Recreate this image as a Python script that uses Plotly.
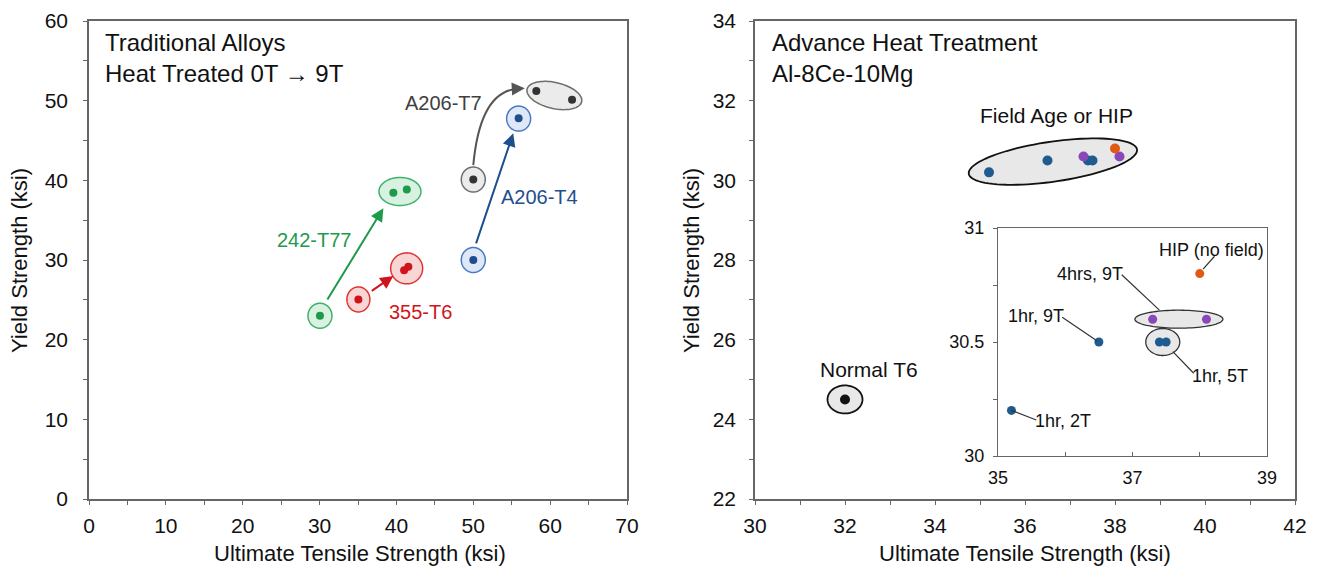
import numpy as np
import plotly.graph_objects as go

# ---------------- data : left panel (traditional alloys) ----------------
t77_uts = [30.05, 39.6, 41.35]
t77_ys = [23.0, 38.45, 38.85]
t6_355_uts = [35.05, 41.0, 41.55]
t6_355_ys = [25.05, 28.7, 29.15]
t4_uts = [50.0, 55.9]
t4_ys = [30.0, 47.8]
t7_uts = [50.0, 58.2, 62.85]
t7_ys = [40.1, 51.2, 50.1]

# ---------------- data : right panel (Al-8Ce-10Mg) ----------------
normal_uts = [32.0]
normal_ys = [24.5]
blue_uts = [35.2, 36.5, 37.4, 37.5]
blue_ys = [30.2, 30.5, 30.5, 30.5]
purple_uts = [37.3, 38.1]
purple_ys = [30.6, 30.6]
hip_uts = [38.0]
hip_ys = [30.8]

FONT = "Liberation Sans, Arial, sans-serif"
# the page body has an 8 px margin, so the figure is drawn 8 px in from the corner
OX, OY = 8, 8
W, H = 1318 - OX, 569 - OY

# pixel boxes (screen coordinates) of the three plot areas
L = (89, 627, 21, 499)
R = (755, 1295, 21, 499)
I = (998, 1267, 228, 456)
LR = ((0, 70), (0, 60))
RR = ((30, 42), (22, 34))
IR = ((35, 39), (30, 31))


def pxx(px):
    return (px - OX) / W


def pyy(py):
    return (H - (py - OY)) / H


def dom(box):
    x0, x1, yt, yb = box
    return [pxx(x0), pxx(x1)], [pyy(yb), pyy(yt)]


def ppu(box, rng):
    x0, x1, yt, yb = box
    return (x1 - x0) / (rng[0][1] - rng[0][0]), (yb - yt) / (rng[1][1] - rng[1][0])


def ellipse(cx, cy, rx, ry, ang, box, rng, n=90):
    px, py = ppu(box, rng)
    t = np.linspace(0, 2 * np.pi, n)
    a = np.radians(ang)
    dx = rx * np.cos(t) * np.cos(a) - ry * np.sin(t) * np.sin(a)
    dy = rx * np.cos(t) * np.sin(a) + ry * np.sin(t) * np.cos(a)
    xs = cx + dx / px
    ys = cy + dy / py
    return "M " + " L ".join(f"{x:.5f},{y:.5f}" for x, y in zip(xs, ys)) + " Z"


GREEN, GREEN_L, GREEN_F = "#1e9a4b", "#3db26b", "#d8f1e0"
RED, RED_L, RED_F = "#d0141c", "#e03434", "#f8d6d6"
BLUE, BLUE_L, BLUE_F = "#1f4e8f", "#4a78c8", "#dfe8f7"
GRAY, GRAY_L, GRAY_F = "#333333", "#6e6e6e", "#ebebeb"
DBLUE, PURPLE, ORANGE = "#1f5b8e", "#8a47b8", "#e05a14"

fig = go.Figure()


def pts(x, y, color, size, xa, ya):
    fig.add_trace(go.Scatter(x=x, y=y, mode="markers", xaxis=xa, yaxis=ya,
                             marker=dict(color=color, size=size), showlegend=False,
                             hoverinfo="x+y"))


pts(t77_uts, t77_ys, GREEN, 8, "x", "y")
pts(t6_355_uts, t6_355_ys, RED, 8, "x", "y")
pts(t4_uts, t4_ys, BLUE, 8, "x", "y")
pts(t7_uts, t7_ys, GRAY, 8, "x", "y")

pts(normal_uts, normal_ys, "#111111", 10, "x2", "y2")
pts(blue_uts, blue_ys, DBLUE, 10, "x2", "y2")
pts(purple_uts, purple_ys, PURPLE, 10, "x2", "y2")
pts(hip_uts, hip_ys, ORANGE, 10, "x2", "y2")

pts(blue_uts, blue_ys, DBLUE, 9, "x3", "y3")
pts(purple_uts, purple_ys, PURPLE, 9, "x3", "y3")
pts(hip_uts, hip_ys, ORANGE, 9, "x3", "y3")

shapes = []


def add_ell(cx, cy, rx, ry, ang, box, rng, xr, yr, line, fill, lw=1.5):
    shapes.append(dict(type="path", path=ellipse(cx, cy, rx, ry, ang, box, rng), xref=xr, yref=yr,
                       line=dict(color=line, width=lw), fillcolor=fill, layer="below"))


# left panel outlines
add_ell(t77_uts[0], t77_ys[0], 12, 12.5, 0, L, LR, "x", "y", GREEN_L, GREEN_F)
add_ell(40.46, 38.6, 21, 14, 0, L, LR, "x", "y", GREEN_L, GREEN_F)
add_ell(t6_355_uts[0], t6_355_ys[0], 11.5, 12.5, 0, L, LR, "x", "y", RED_L, RED_F)
add_ell(41.33, 28.95, 16, 15.5, 0, L, LR, "x", "y", RED_L, RED_F)
add_ell(t4_uts[0], t4_ys[0], 12, 12.5, 0, L, LR, "x", "y", BLUE_L, BLUE_F)
add_ell(t4_uts[1], t4_ys[1] - 0.05, 12, 12.5, 0, L, LR, "x", "y", BLUE_L, BLUE_F)
add_ell(t7_uts[0], t7_ys[0], 12, 12.5, 0, L, LR, "x", "y", GRAY_L, GRAY_F)
add_ell(60.55, 50.65, 28, 13, -13, L, LR, "x", "y", GRAY_L, GRAY_F)

# right panel outlines
add_ell(32.0, 24.5, 17.5, 14, 0, R, RR, "x2", "y2", "#111111", "#e8e8e8", 1.8)
add_ell(36.62, 30.47, 85, 20, 8.2, R, RR, "x2", "y2", "#111111", "#e8e8e8", 1.8)

# inset outlines
add_ell(37.69, 30.6, 44, 9, 0, I, IR, "x3", "y3", "#333333", "#e8e8e8", 1.3)
add_ell(37.45, 30.5, 17, 13.5, 0, I, IR, "x3", "y3", "#333333", "#e8e8e8", 1.3)

# gray curved arrow body
shapes.append(dict(type="path", path="M 50.0,41.9 Q 50.9,51.4 56.0,51.5", xref="x", yref="y",
                   line=dict(color="#555555", width=2)))

# inset leader lines
for (xa, ya, xb, yb) in [(38.05, 30.82, 38.22, 30.876),
                         (36.84, 30.795, 37.40, 30.64),
                         (35.955, 30.609, 36.47, 30.505),
                         (37.60, 30.458, 37.91, 30.363),
                         (35.2, 30.2, 35.57, 30.158)]:
    shapes.append(dict(type="line", x0=xa, y0=ya, x1=xb, y1=yb, xref="x3", yref="y3",
                       line=dict(color="#333333", width=1.2)))

ann = []


def arrow(x, y, ax, ay, color):
    ann.append(dict(x=x, y=y, ax=ax, ay=ay, xref="x", yref="y", axref="x", ayref="y",
                    showarrow=True, arrowhead=2, arrowsize=1.3, arrowwidth=2, arrowcolor=color,
                    text="", standoff=0, startstandoff=0))


arrow(38.3, 36.5, 30.9, 24.85, GREEN)
arrow(39.6, 28.0, 36.6, 26.0, RED)
arrow(55.2, 45.9, 50.3, 31.9, BLUE)
arrow(56.7, 51.55, 55.4, 51.48, "#555555")


def txt(x, y, s, color, size, xr, yr, xanchor="center", yanchor="middle", align="center"):
    ann.append(dict(x=x, y=y, text=s, xref=xr, yref=yr, showarrow=False, xanchor=xanchor,
                    yanchor=yanchor, align=align, font=dict(family=FONT, size=size, color=color)))


txt(29.4, 32.5, "242-T77", GREEN, 20, "x", "y")
txt(43.07, 23.5, "355-T6", RED, 20, "x", "y")
txt(58.6, 37.87, "A206-T4", BLUE, 20, "x", "y")
txt(46.06, 49.67, "A206-T7", "#404040", 20, "x", "y")

txt(36.69, 31.64, "Field Age or HIP", "#111111", 21, "x2", "y2")
txt(32.53, 25.25, "Normal T6", "#111111", 21, "x2", "y2")

txt(38.17, 30.905, "HIP (no field)", "#111111", 18, "x3", "y3")
txt(36.37, 30.80, "4hrs, 9T", "#111111", 18, "x3", "y3")
txt(35.56, 30.612, "1hr, 9T", "#111111", 18, "x3", "y3")
txt(38.30, 30.349, "1hr, 5T", "#111111", 18, "x3", "y3")
txt(35.97, 30.155, "1hr, 2T", "#111111", 18, "x3", "y3")

# panel titles
txt(pxx(103), pyy(27), "Traditional Alloys<br>Heat Treated 0T → 9T", "#111111", 24,
    "paper", "paper", "left", "top", "left")
txt(pxx(770), pyy(27), "Advance Heat Treatment<br>Al-8Ce-10Mg", "#111111", 24,
    "paper", "paper", "left", "top", "left")

# axis titles
for cx in (360, 1025):
    txt(pxx(cx), pyy(553), "Ultimate Tensile Strength (ksi)", "#111111", 22, "paper", "paper")
for cx in (20, 692):
    ann.append(dict(x=pxx(cx), y=pyy(261), text="Yield Strength (ksi)", xref="paper", yref="paper",
                    showarrow=False, textangle=-90, xanchor="center", yanchor="middle",
                    font=dict(family=FONT, size=22, color="#111111")))

AX = dict(showline=True, mirror=True, linecolor="#666666", linewidth=1.5, showgrid=False,
          zeroline=False, ticks="outside", ticklen=4, tickcolor="#666666", tickwidth=1.3,
          automargin=False, tickfont=dict(family=FONT, size=21, color="#111111"))

ldx, ldy = dom(L)
rdx, rdy = dom(R)
idx, idy = dom(I)

fig.update_layout(
    template="none",
    width=W, height=H, autosize=False,
    margin=dict(l=0, r=0, t=0, b=0, pad=0),
    paper_bgcolor="white", plot_bgcolor="rgba(0,0,0,0)",
    showlegend=False,
    xaxis=dict(AX, domain=ldx, range=[0, 70], dtick=10, anchor="y", ticklabelstandoff=3,
               minor=dict(dtick=5, ticks="outside", ticklen=4, tickcolor="#666666")),
    yaxis=dict(AX, domain=ldy, range=[0, 60], dtick=10, anchor="x", ticklabelstandoff=11,
               minor=dict(dtick=5, ticks="outside", ticklen=4, tickcolor="#666666")),
    xaxis2=dict(AX, domain=rdx, range=[30, 42], dtick=2, anchor="y2", ticklabelstandoff=3,
                minor=dict(dtick=1, ticks="outside", ticklen=4, tickcolor="#666666")),
    yaxis2=dict(AX, domain=rdy, range=[22, 34], dtick=2, anchor="x2", ticklabelstandoff=9,
                minor=dict(dtick=1, ticks="outside", ticklen=4, tickcolor="#666666")),
    xaxis3=dict(AX, domain=idx, range=[35, 39], tickmode="array", tickvals=[35, 37, 39],
                anchor="y3", ticks="inside", linewidth=1.3, ticklabelstandoff=5,
                tickfont=dict(family=FONT, size=18, color="#111111"),
                minor=dict(dtick=1, ticks="inside", ticklen=4, tickcolor="#666666")),
    yaxis3=dict(AX, domain=idy, range=[30, 31], tickmode="array", tickvals=[30, 30.5, 31],
                ticktext=["30", "30.5", "31"], anchor="x3", linewidth=1.3, ticklabelstandoff=5,
                tickfont=dict(family=FONT, size=18, color="#111111"),
                minor=dict(dtick=0.25, ticks="outside", ticklen=4, tickcolor="#666666")),
    shapes=shapes,
    annotations=ann,
)

fig.write_html("out.html")
